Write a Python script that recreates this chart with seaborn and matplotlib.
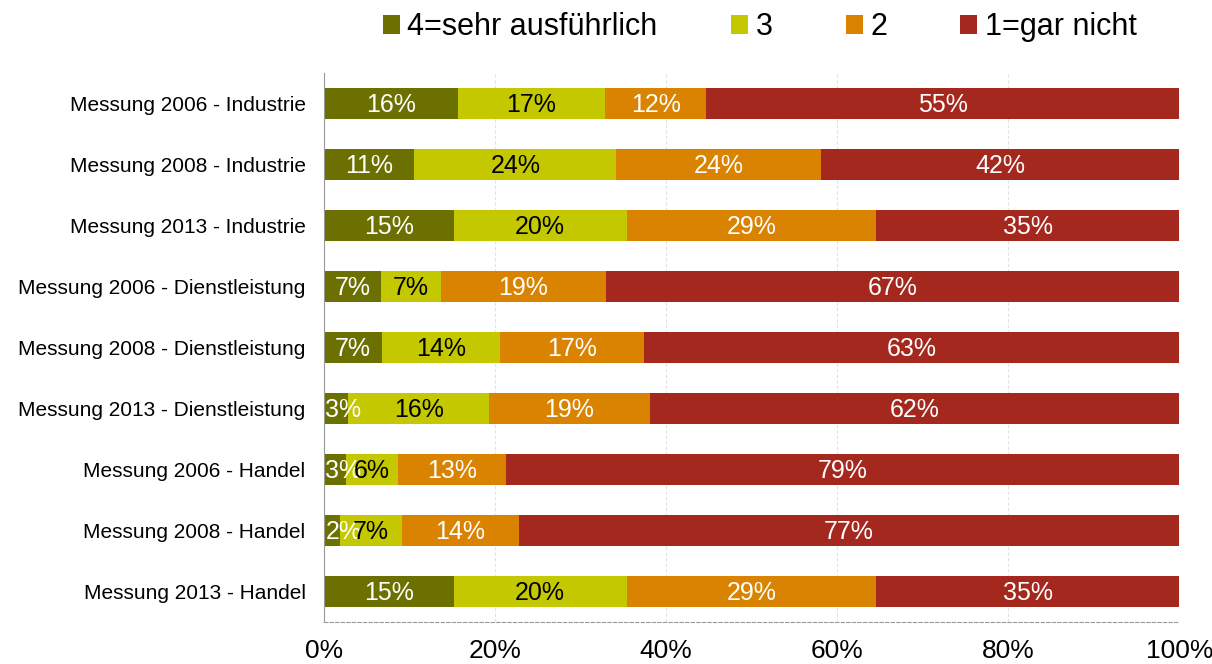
import matplotlib
matplotlib.use("Agg")
import matplotlib.pyplot as plt
from matplotlib.patches import Patch
import seaborn as sns
import pandas as pd

# === Data (share of answers in %) ===
groups = [
    "Messung 2006 - Industrie",
    "Messung 2008 - Industrie",
    "Messung 2013 - Industrie",
    "Messung 2006 - Dienstleistung",
    "Messung 2008 - Dienstleistung",
    "Messung 2013 - Dienstleistung",
    "Messung 2006 - Handel",
    "Messung 2008 - Handel",
    "Messung 2013 - Handel",
]
sehr_ausfuehrlich = [15.7, 10.6, 15.2, 6.7, 6.8, 2.9, 2.6, 1.9, 15.2]
stufe_3 = [17.2, 23.6, 20.2, 7.0, 13.8, 16.4, 6.1, 7.3, 20.2]
stufe_2 = [11.8, 23.9, 29.2, 19.3, 16.8, 18.8, 12.6, 13.6, 29.2]
gar_nicht = [55.3, 41.9, 35.4, 67.0, 62.6, 61.9, 78.7, 77.2, 35.4]

series_names = ["4=sehr ausführlich", "3", "2", "1=gar nicht"]
colors = ["#6b7000", "#c3c800", "#d98300", "#a5281e"]
text_colors = ["white", "black", "white", "white"]

df = pd.DataFrame({
    "Gruppe": groups,
    series_names[0]: sehr_ausfuehrlich,
    series_names[1]: stufe_3,
    series_names[2]: stufe_2,
    series_names[3]: gar_nicht,
})
cum = df[series_names].cumsum(axis=1)

# === Plot ===
sns.set_style("white")
plt.rcParams["font.family"] = ["Liberation Sans", "DejaVu Sans"]
plt.rcParams["text.color"] = "black"
plt.rcParams["xtick.color"] = "black"
plt.rcParams["ytick.color"] = "black"

fig = plt.figure(figsize=(12.12, 6.64), dpi=100)
ax = fig.add_axes([0.267, 0.063, 0.706, 0.827])

# stacked bars: draw cumulative totals from the back to the front
for i in reversed(range(len(series_names))):
    sns.barplot(x=cum[series_names[i]], y=df["Gruppe"], color=colors[i],
                width=0.5, saturation=1, orient="h", linewidth=0, ax=ax)

# value labels in the middle of each segment (kept clear of the left axis)
for i, name in enumerate(series_names):
    left = cum[name] - df[name]
    for row, (l, v) in enumerate(zip(left, df[name])):
        xpos = max(l + v / 2, 2.3)
        ax.text(xpos, row + 0.02, f"{v:.0f}%", ha="center", va="center",
                fontsize=18, color=text_colors[i], zorder=5)

ax.set_xlim(0, 100)
ax.set_ylim(8.5, -0.5)
ax.set_xticks([0, 20, 40, 60, 80, 100])
ax.set_xticklabels([f"{t}%" for t in [0, 20, 40, 60, 80, 100]], fontsize=19)
ax.tick_params(axis="x", length=0, pad=12)
ax.tick_params(axis="y", length=0, labelsize=15, pad=13)
ax.set_xlabel("")
ax.set_ylabel("")
ax.grid(axis="x", color="#e2e2e2", linestyle=(0, (3, 2)), linewidth=0.8)
ax.set_axisbelow(True)

for s in ["top", "right"]:
    ax.spines[s].set_visible(False)
ax.spines["left"].set_color("#999999")
ax.spines["bottom"].set_color("#999999")
ax.spines["bottom"].set_linestyle((0, (3, 2)))

handles = [Patch(facecolor=c, edgecolor="none") for c in colors]
fig.legend(handles, series_names, loc="upper center", bbox_to_anchor=(0.627, 1.0),
           ncol=4, frameon=False, fontsize=22, handlelength=0.55, handleheight=0.55,
           handletextpad=0.25, columnspacing=2.4, borderaxespad=0.0)

fig.savefig("out.png", dpi=100)
